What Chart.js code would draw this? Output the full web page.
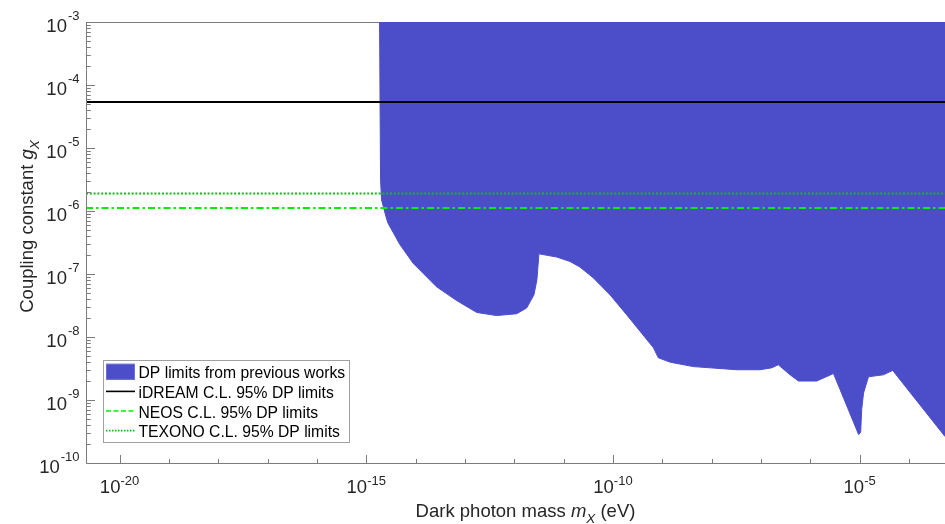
<!DOCTYPE html>
<html>
<head>
<meta charset="utf-8">
<title>Dark photon coupling limits</title>
<script src="https://cdn.jsdelivr.net/npm/chart.js"></script>
<style>
  html, body { margin: 0; padding: 0; background: #fff; }
  #wrap { width: 945px; height: 524px; }
</style>
</head>
<body>
<div id="wrap"><canvas id="myChart"></canvas></div>
<script>
// lower edge of the region excluded by previous works (mass in eV, coupling g_X)
const boundaryMass = [
  1.86e-15, 1.95e-15, 2.04e-15, 2.51e-15, 2.75e-15, 4.79e-15, 8.91e-15,
  2.63e-14, 6.76e-14, 1.74e-13, 4.37e-13, 1.12e-12, 1.78e-12, 2.51e-12,
  2.88e-12, 3.16e-12, 7.24e-12, 1.35e-11, 2.14e-11, 3.98e-11, 8.71e-11,
  1.91e-10, 6.61e-10, 8.32e-10, 1.45e-9, 4.27e-9, 3.24e-8, 9.55e-8,
  1.66e-7, 2.24e-7, 3.89e-7, 5.75e-7, 1.35e-6, 2.95e-6, 9.55e-6,
  1.05e-5, 1.10e-5, 1.20e-5, 1.51e-5, 3.02e-5, 4.68e-5, 5.37e-4
];
const boundaryCoupling = [
  1e-3, 3.16e-6, 1.51e-6, 8.13e-7, 6.46e-7, 2.95e-7, 1.48e-7,
  6.31e-8, 3.80e-8, 2.45e-8, 2.19e-8, 2.34e-8, 2.88e-8, 4.68e-8,
  8.13e-8, 2.09e-7, 1.86e-7, 1.58e-7, 1.29e-7, 8.71e-8, 4.68e-8,
  2.24e-8, 6.76e-9, 4.68e-9, 3.98e-9, 3.39e-9, 3.02e-9, 3.02e-9,
  3.24e-9, 3.63e-9, 2.51e-9, 2.00e-9, 2.00e-9, 2.63e-9, 2.82e-10,
  3.09e-10, 7.08e-10, 1.29e-9, 2.34e-9, 2.51e-9, 2.95e-9, 2.63e-10
];

// 95% C.L. limits, flat in mass
const idreamLimit = 5.37e-5;
const neosLimit = 1.12e-6;
const texonoLimit = 1.9e-6;

const seriesLabels = [
  "DP limits from previous works",
  "iDREAM C.L. 95% DP limits",
  "NEOS C.L. 95% DP limits",
  "TEXONO C.L. 95% DP limits"
];

const massRange = [2.09e-21, 5.37e-4];
const couplingRange = [1e-10, 1e-3];
const massTickExps = [-20, -19, -18, -17, -16, -15, -14, -13, -12, -11, -10, -9, -8, -7, -6, -5, -4];
const massLabelExps = [-20, -15, -10, -5];
const couplingTickExps = [-10, -9, -8, -7, -6, -5, -4, -3];

const FONT = '"Liberation Sans", Arial, Helvetica, sans-serif';
const TEXT = "#262626";
const AXIS = "#7c7c7c";
const FILL = "#4c4ec9";

function flat(value) {
  return [{ x: massRange[0], y: value }, { x: massRange[1], y: value }];
}

// MATLAB-like axes: inward ticks, 10^n labels, titles with subscripts, boxed legend
const axesPlugin = {
  id: "axesPlugin",
  beforeDatasetsDraw(chart) {
    const { ctx, chartArea: a } = chart;
    ctx.save();
    ctx.strokeStyle = AXIS;
    ctx.lineWidth = 1;
    ctx.beginPath();
    ctx.moveTo(a.left, Math.round(a.top) + 0.5);
    ctx.lineTo(a.right, Math.round(a.top) + 0.5);
    ctx.stroke();
    ctx.restore();
  },
  afterDatasetsDraw(chart) {
    const { ctx, chartArea: a, scales } = chart;
    const xs = scales.x, ys = scales.y;
    const left = Math.round(a.left) + 0.5;
    const bottom = Math.round(a.bottom) + 0.5;
    ctx.save();
    ctx.strokeStyle = AXIS;
    ctx.lineWidth = 1;
    ctx.beginPath();
    ctx.moveTo(left, a.top);
    ctx.lineTo(left, bottom);
    ctx.lineTo(a.right, bottom);
    ctx.stroke();

    // x ticks, one per decade, longer where labelled
    ctx.beginPath();
    massTickExps.forEach((e) => {
      const px = Math.round(xs.getPixelForValue(Math.pow(10, e))) + 0.5;
      const len = massLabelExps.includes(e) ? 8.5 : 4.5;
      ctx.moveTo(px, bottom);
      ctx.lineTo(px, bottom - len);
    });
    // y ticks with 2..9 minor marks
    couplingTickExps.forEach((e) => {
      const py = Math.round(ys.getPixelForValue(Math.pow(10, e))) + 0.5;
      ctx.moveTo(left, py);
      ctx.lineTo(left + 8.5, py);
      if (e < couplingTickExps[couplingTickExps.length - 1]) {
        for (let k = 2; k <= 9; k++) {
          const my = Math.round(ys.getPixelForValue(k * Math.pow(10, e))) + 0.5;
          ctx.moveTo(left, my);
          ctx.lineTo(left + 4.3, my);
        }
      }
    });
    ctx.stroke();

    ctx.fillStyle = TEXT;
    ctx.textBaseline = "alphabetic";
    ctx.textAlign = "left";
    const baseFont = `18.5px ${FONT}`;
    const expFont = `13px ${FONT}`;

    massLabelExps.forEach((e) => {
      const px = xs.getPixelForValue(Math.pow(10, e));
      ctx.font = baseFont;
      const wb = ctx.measureText("10").width;
      ctx.font = expFont;
      const we = ctx.measureText(String(e)).width;
      const x0 = px - (wb + we) / 2;
      ctx.font = baseFont;
      ctx.fillText("10", x0, a.bottom + 30);
      ctx.font = expFont;
      ctx.fillText(String(e), x0 + wb, a.bottom + 21.5);
    });

    couplingTickExps.forEach((e) => {
      const py = ys.getPixelForValue(Math.pow(10, e));
      ctx.font = baseFont;
      const wb = ctx.measureText("10").width;
      ctx.font = expFont;
      const we = ctx.measureText(String(e)).width;
      const right = a.left - 6.5;
      ctx.fillText(String(e), right - we, py - 2);
      ctx.font = baseFont;
      ctx.fillText("10", right - we - wb - 1, py + 10);
    });

    // axis titles
    const titleFont = `18.5px ${FONT}`;
    const italic = `italic 18.5px ${FONT}`;
    const subFont = `italic 13.5px ${FONT}`;
    const parts = [
      [titleFont, "Dark photon mass ", 0],
      [italic, "m", 0],
      [subFont, "X", 6],
      [titleFont, " (eV)", 0]
    ];
    drawRich(ctx, parts, (a.left + a.right) / 2 + 10, a.bottom + 53.5);

    ctx.save();
    ctx.translate(33, 226.5);
    ctx.rotate(-Math.PI / 2);
    drawRich(ctx, [
      [titleFont, "Coupling constant ", 0],
      [italic, "g", 0],
      [subFont, "X", 6]
    ], 0, 0);
    ctx.restore();
    ctx.restore();
  },
  afterDraw(chart) {
    const ctx = chart.ctx;
    const ds = chart.data.datasets;
    ctx.save();
    ctx.fillStyle = "#fff";
    ctx.strokeStyle = "#a0a0a0";
    ctx.lineWidth = 1;
    ctx.fillRect(103.5, 360.5, 246, 82);
    ctx.strokeRect(103.5, 360.5, 246, 82);
    ctx.font = `15.7px ${FONT}`;
    ctx.textBaseline = "alphabetic";
    ctx.textAlign = "left";
    ds.forEach((d, i) => {
      const base = 378.3 + i * 19.6;
      const cy = base - 6.5;
      if (i === 0) {
        ctx.fillStyle = d.backgroundColor;
        ctx.fillRect(106, cy - 8, 29, 16);
        ctx.strokeStyle = "#6f70d8";
        ctx.strokeRect(106.5, cy - 7.5, 28, 15);
      } else {
        ctx.strokeStyle = d.borderColor;
        ctx.lineWidth = 1.6;
        ctx.setLineDash(d.legendDash || []);
        ctx.beginPath();
        ctx.moveTo(106, cy);
        ctx.lineTo(135, cy);
        ctx.stroke();
        ctx.setLineDash([]);
      }
      ctx.fillStyle = "#000";
      ctx.fillText(d.label, 138.5, base);
    });
    ctx.restore();
  }
};

// text runs centred on (cx, y), each run with its own font and baseline shift
function drawRich(ctx, parts, cx, y) {
  let total = 0;
  parts.forEach(([f, t]) => { ctx.font = f; total += ctx.measureText(t).width; });
  let x = cx - total / 2;
  ctx.textAlign = "left";
  ctx.fillStyle = TEXT;
  parts.forEach(([f, t, dy]) => {
    ctx.font = f;
    ctx.fillText(t, x, y + dy);
    x += ctx.measureText(t).width;
  });
}

const ctx = document.getElementById("myChart");

new Chart(ctx, {
  type: "line",
  data: {
    datasets: [
      {
        label: seriesLabels[0],
        data: boundaryMass.map((m, i) => ({ x: m, y: boundaryCoupling[i] })),
        borderColor: FILL,
        backgroundColor: FILL,
        borderWidth: 1,
        pointRadius: 0,
        fill: "end",
        tension: 0,
        order: 10
      },
      {
        label: seriesLabels[1],
        data: flat(idreamLimit),
        borderColor: "#000000",
        borderWidth: 2,
        pointRadius: 0,
        order: 3
      },
      {
        label: seriesLabels[2],
        data: flat(neosLimit),
        borderColor: "#00f000",
        borderWidth: 2,
        borderDash: [7, 3, 2.5, 3],
        legendDash: [5, 2.5],
        pointRadius: 0,
        order: 2
      },
      {
        label: seriesLabels[3],
        data: flat(texonoLimit),
        borderColor: "#12bb12",
        borderWidth: 2,
        borderDash: [2, 1.8],
        legendDash: [1.5, 1.5],
        pointRadius: 0,
        order: 1
      }
    ]
  },
  options: {
    responsive: true,
    maintainAspectRatio: false,
    animation: false,
    layout: { padding: { left: 86, top: 22, right: 0, bottom: 61 } },
    scales: {
      x: { type: "logarithmic", display: false, min: massRange[0], max: massRange[1] },
      y: { type: "logarithmic", display: false, min: couplingRange[0], max: couplingRange[1] }
    },
    plugins: {
      legend: { display: false },
      tooltip: { enabled: false }
    }
  },
  plugins: [axesPlugin]
});
</script>
</body>
</html>
